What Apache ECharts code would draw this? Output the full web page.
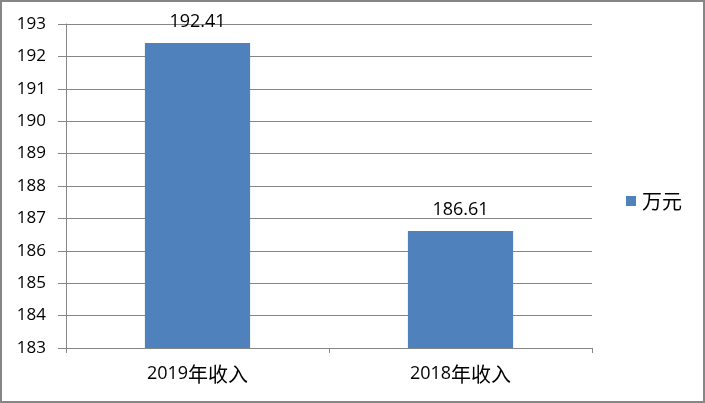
<!DOCTYPE html>
<html><head><meta charset="utf-8">
<script src="https://cdn.jsdelivr.net/npm/echarts@6/dist/echarts.min.js"></script>
<style>html,body{margin:0;padding:0;background:#fff}#c{width:705px;height:403px}</style>
</head><body><div id="c"></div>
<script>
var categories = ['2019年收入', '2018年收入'];
var seriesName = '万元';
var values = [192.41, 186.61];
var yMin = 183, yMax = 193, yStep = 1;

var font = '"Open Sans","Noto Sans CJK SC",sans-serif';
var cjk = '"Noto Sans CJK SC",sans-serif';
var chart = echarts.init(document.getElementById('c'));
chart.setOption({
  animation: false,
  textStyle: {fontFamily: font},
  graphic: [{type: 'rect', shape: {x: 1, y: 1, width: 703, height: 401}, style: {fill: 'none', stroke: '#868686', lineWidth: 2}}],
  grid: {left: 66, top: 24, right: 113, bottom: 55, containLabel: false},
  legend: {
    data: [seriesName], orient: 'vertical', left: 626, top: 191,
    itemWidth: 10, itemHeight: 10, icon: 'rect', itemGap: 5, padding: 0,
    textStyle: {fontSize: 20, color: '#000', fontFamily: cjk, padding: [0, 0, 0, 1]}
  },
  xAxis: {
    type: 'category', data: categories,
    axisLine: {lineStyle: {color: '#868686', width: 1}},
    axisTick: {show: true, length: 5, lineStyle: {color: '#868686'}},
    axisLabel: {
      color: '#000', margin: 16,
      formatter: function(v){
        var m = v.match(/^([0-9]+)(.*)$/);
        return m ? '{n|' + m[1] + '}{c|' + m[2] + '}' : v;
      },
      rich: {
        n: {fontSize: 18, fontFamily: font, color: '#000'},
        c: {fontSize: 20, fontFamily: cjk, color: '#000'}
      }
    }
  },
  yAxis: {
    type: 'value', min: yMin, max: yMax, interval: yStep,
    axisLine: {show: true, lineStyle: {color: '#868686'}},
    axisTick: {show: true, length: 8, lineStyle: {color: '#868686'}},
    splitLine: {lineStyle: {color: '#868686', width: 1}},
    axisLabel: {fontSize: 17, color: '#000', margin: 20, fontFamily: font}
  },
  series: [{
    name: seriesName, type: 'bar', data: values, barWidth: '40%',
    itemStyle: {color: '#4F81BD'},
    label: {show: true, position: 'top', fontSize: 18, color: '#000', distance: 12, fontFamily: font,
      formatter: function(p){ return p.value.toFixed(2); }}
  }]
});
</script></body></html>
